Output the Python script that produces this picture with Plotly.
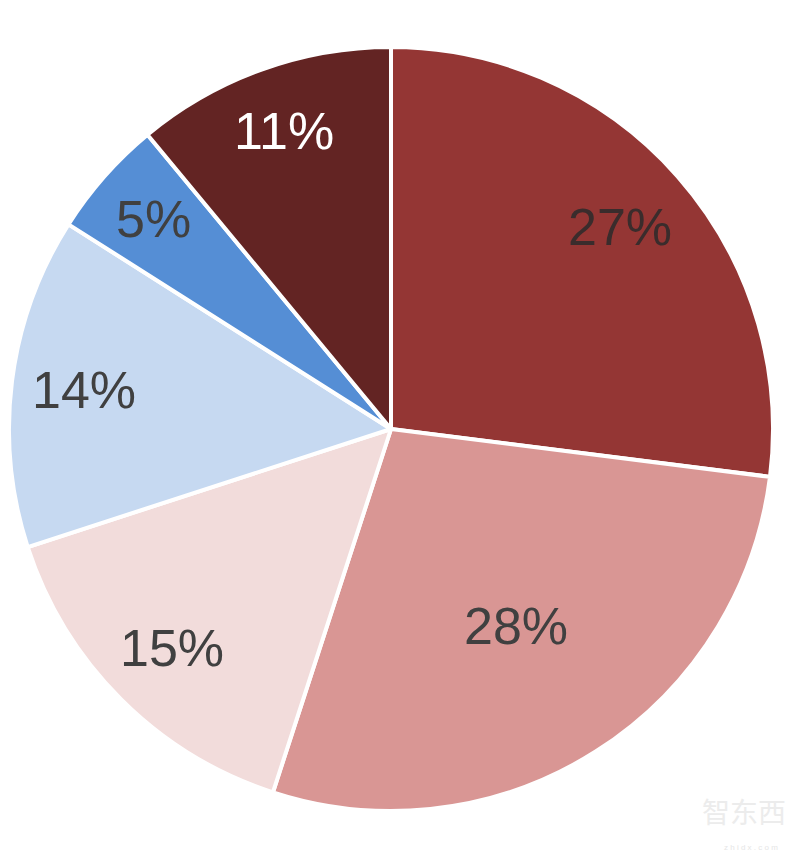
import math
import plotly.graph_objects as go

categories = ["A", "B", "C", "D", "E", "F"]
values = [27, 28, 15, 14, 5, 11]
colors = ["#943634", "#D99694", "#F2DCDB", "#C6D9F1", "#558ED5", "#632423"]
text_colors = ["#3a2c2c", "#404040", "#404040", "#404040", "#404040", "#ffffff"]
label_radius = [0.80, 0.61, 0.81, 0.81, 0.83, 0.83]

W, H = 784, 850
CX, CY, R = 383, 421, 382  # pie centre / radius in page pixels

fig = go.Figure(go.Pie(
    labels=categories,
    values=values,
    sort=False,
    direction="clockwise",
    rotation=0,
    marker=dict(colors=colors, line=dict(color="#ffffff", width=4)),
    textinfo="none",
    showlegend=False,
    hoverinfo="skip",
    domain=dict(x=[(CX - R) / W, (CX + R) / W], y=[(H - CY - R) / H, (H - CY + R) / H]),
))

total = sum(values)
cum = 0
for v, tc, f in zip(values, text_colors, label_radius):
    mid = (cum + v / 2) / total * 2 * math.pi
    cum += v
    px = CX + f * R * math.sin(mid)
    py = CY - f * R * math.cos(mid)
    fig.add_annotation(text=f"{v}%", x=px / W, y=1 - py / H, xref="paper", yref="paper",
                       showarrow=False, xanchor="center", yanchor="middle",
                       font=dict(family="Liberation Sans, Arial", size=52, color=tc))

fig.add_annotation(text="智东西", x=0.995, y=0.03, xref="paper", yref="paper",
                   xanchor="right", yanchor="bottom", showarrow=False,
                   font=dict(family="Noto Sans CJK SC", size=28, color="#ececec"))
fig.add_annotation(text="z h i d x . c o m", x=0.985, y=0.005, xref="paper", yref="paper",
                   xanchor="right", yanchor="bottom", showarrow=False,
                   font=dict(family="Liberation Sans", size=8, color="#e6e6e6"))

fig.update_layout(
    width=W, height=H,
    margin=dict(l=0, r=0, t=0, b=0),
    paper_bgcolor="#ffffff",
    plot_bgcolor="#ffffff",
)

fig.write_html("out.html")
